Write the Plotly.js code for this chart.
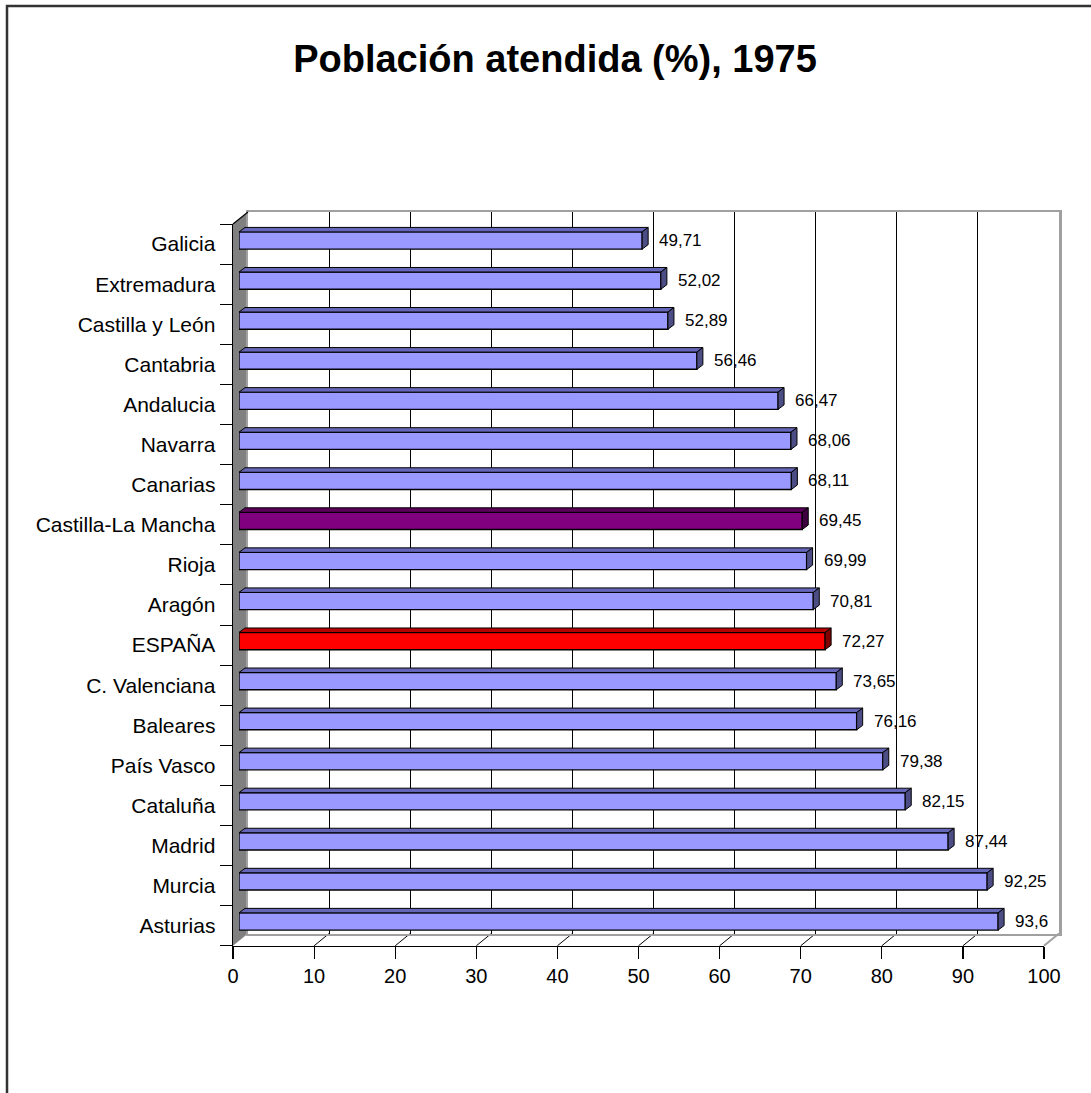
<!DOCTYPE html>
<html>
<head>
<meta charset="utf-8">
<script src="https://cdn.plot.ly/plotly-3.0.1.min.js"></script>
<style>
  html, body { margin: 0; padding: 0; background: #ffffff; }
  #chart { width: 1091px; height: 1093px; }
</style>
</head>
<body>
<div id="chart"></div>
<script>
// Población atendida (%) por comunidad autónoma, 1975
const regions = [
  'Galicia', 'Extremadura', 'Castilla y León', 'Cantabria', 'Andalucia',
  'Navarra', 'Canarias', 'Castilla-La Mancha', 'Rioja', 'Aragón', 'ESPAÑA',
  'C. Valenciana', 'Baleares', 'País Vasco', 'Cataluña', 'Madrid', 'Murcia',
  'Asturias'
];
const values = [
  49.71, 52.02, 52.89, 56.46, 66.47,
  68.06, 68.11, 69.45, 69.99, 70.81, 72.27,
  73.65, 76.16, 79.38, 82.15, 87.44, 92.25,
  93.6
];
const xTicks = [0, 10, 20, 30, 40, 50, 60, 70, 80, 90, 100];

// ---- styling ----
const FONT = 'Liberation Sans, Arial, Helvetica, sans-serif';
const W = 1091, H = 1093;
const px = x => x / W;
const py = y => 1 - y / H;

// pixel frames of the three depth planes of the pseudo-3D box
const FRONT = { x0: 233, x1: 1044, y0: 224, y1: 945.8 };
const BACK  = { x0: 248, x1: 1059, y0: 212, y1: 933.5 };
const MID   = { x0: 239, x1: 1050, y0: 220.5, y1: 941.5 };

const palette = {
  normal:  { front: '#9999FF', top: '#6666B8', side: '#4D4D85' },
  'ESPAÑA': { front: '#FF0000', top: '#B80000', side: '#800000' },
  'Castilla-La Mancha': { front: '#800080', top: '#5C005C', side: '#400040' }
};
const styleOf = r => palette[r] || palette.normal;

const BAR_W = 0.43;
const DEPTH_PX = 6, RISE_PX = 4.5;
const xMax = xTicks[xTicks.length - 1];
const dxU = DEPTH_PX * xMax / (MID.x1 - MID.x0);
const dyU = RISE_PX * regions.length / (MID.y1 - MID.y0);

const fmt = v => String(v).replace('.', ',');

// ---- traces ----
const traces = [
  // back wall subplot (carries the vertical gridlines)
  { type: 'scatter', mode: 'none', x: [0], y: [0], xaxis: 'x', yaxis: 'y',
    hoverinfo: 'skip', showlegend: false },
  // front plane subplot (carries the category and value axes)
  { type: 'scatter', mode: 'none', x: [0], y: [0], xaxis: 'x2', yaxis: 'y2',
    hoverinfo: 'skip', showlegend: false },
  // bars
  { type: 'bar', orientation: 'h', x: values, y: regions,
    xaxis: 'x3', yaxis: 'y3', width: BAR_W,
    marker: { color: regions.map(r => styleOf(r).front),
              line: { color: '#000000', width: 1.4 } },
    hoverinfo: 'x+y', showlegend: false }
];

// ---- bar top and side faces ----
const shapes = [];
regions.forEach((r, i) => {
  const v = values[i];
  const t = i - BAR_W / 2, b = i + BAR_W / 2;
  const st = styleOf(r);
  shapes.push({
    type: 'path', xref: 'x3', yref: 'y3', layer: 'above',
    path: `M 0,${t} L ${dxU},${t - dyU} L ${v + dxU},${t - dyU} L ${v},${t} Z`,
    fillcolor: st.top, line: { color: '#000000', width: 1 }
  });
  shapes.push({
    type: 'path', xref: 'x3', yref: 'y3', layer: 'above',
    path: `M ${v},${t} L ${v + dxU},${t - dyU} L ${v + dxU},${b - dyU} L ${v},${b} Z`,
    fillcolor: st.side, line: { color: '#000000', width: 1 }
  });
});

// left side wall
shapes.push({
  type: 'path', xref: 'paper', yref: 'paper', layer: 'below',
  path: `M ${px(FRONT.x0)},${py(FRONT.y0)} L ${px(BACK.x0)},${py(BACK.y0)} ` +
        `L ${px(BACK.x0)},${py(BACK.y1)} L ${px(FRONT.x0)},${py(FRONT.y1)} Z`,
  fillcolor: '#808080', line: { width: 0 }
});
shapes.push({
  type: 'line', xref: 'paper', yref: 'paper', layer: 'above',
  x0: px(FRONT.x0), y0: py(FRONT.y0), x1: px(BACK.x0), y1: py(BACK.y0),
  line: { color: '#000000', width: 1.2 }
});

// floor gridlines joining the front ticks to the back wall
const fx = v => FRONT.x0 + (FRONT.x1 - FRONT.x0) * v / xMax;
const bx = v => BACK.x0 + (BACK.x1 - BACK.x0) * v / xMax;
xTicks.slice(1).forEach(v => {
  shapes.push({
    type: 'line', xref: 'paper', yref: 'paper', layer: 'below',
    x0: px(fx(v)), y0: py(FRONT.y1), x1: px(bx(v)), y1: py(BACK.y1),
    line: { color: v === xMax ? '#A0A0A0' : '#000000', width: v === xMax ? 2 : 1 }
  });
});

// outer frame
shapes.push({
  type: 'rect', xref: 'paper', yref: 'paper', layer: 'above',
  x0: px(7), y0: py(6), x1: 1.02, y1: -0.02,
  line: { color: '#333333', width: 2.5 }, fillcolor: 'rgba(0,0,0,0)'
});

// ---- value labels ----
const annotations = regions.map((r, i) => ({
  xref: 'x3', yref: 'y3', x: values[i], y: r,
  text: fmt(values[i]), showarrow: false,
  xanchor: 'left', yanchor: 'middle', xshift: 15,
  font: { family: FONT, size: 17, color: '#000000' }
}));

const boundaries = regions.map((_, i) => i - 0.5).concat([regions.length - 0.5]);

const layout = {
  width: W, height: H,
  margin: { l: 0, r: 0, t: 0, b: 0 },
  paper_bgcolor: '#ffffff',
  plot_bgcolor: 'rgba(0,0,0,0)',
  showlegend: false,
  font: { family: FONT, color: '#000000' },
  title: {
    text: 'Población atendida (%), 1975',
    x: px(555), xanchor: 'center', xref: 'paper',
    y: py(59), yanchor: 'middle', yref: 'paper',
    font: { family: FONT, size: 38, weight: 'bold', color: '#000000' }
  },
  // back wall
  xaxis: {
    domain: [px(BACK.x0), px(BACK.x1)], anchor: 'y',
    range: [0, xMax], tickvals: xTicks, showticklabels: false, ticks: '',
    showgrid: true, gridcolor: '#000000', gridwidth: 1, zeroline: false,
    showline: true, mirror: true, linecolor: '#A0A0A0', linewidth: 2.5,
    fixedrange: true
  },
  yaxis: {
    domain: [py(BACK.y1), py(BACK.y0)], anchor: 'x',
    range: [0, 1], showticklabels: false, ticks: '', showgrid: false, zeroline: false,
    showline: true, mirror: true, linecolor: '#A0A0A0', linewidth: 2.5,
    fixedrange: true
  },
  // front plane: value axis and category axis
  xaxis2: {
    domain: [px(FRONT.x0), px(FRONT.x1)], anchor: 'y2',
    range: [0, xMax], tickvals: xTicks,
    ticks: 'outside', ticklen: 12, tickwidth: 1.2, tickcolor: '#000000',
    tickfont: { family: FONT, size: 20, color: '#000000' },
    showgrid: false, zeroline: false,
    showline: true, linecolor: '#000000', linewidth: 1.4,
    fixedrange: true
  },
  yaxis2: {
    domain: [py(FRONT.y1), py(FRONT.y0)], anchor: 'x2',
    range: [regions.length - 0.5, -0.5],
    tickmode: 'array', tickvals: regions.map((_, i) => i), ticktext: regions,
    ticks: '', ticklabelstandoff: 12,
    tickfont: { family: FONT, size: 21, color: '#000000' },
    minor: { tickmode: 'array', tickvals: boundaries, ticks: 'outside',
             ticklen: 12, tickwidth: 1, tickcolor: '#000000', showgrid: false },
    showgrid: false, zeroline: false,
    showline: true, linecolor: '#000000', linewidth: 1.4,
    fixedrange: true
  },
  // bar plane
  xaxis3: {
    domain: [px(MID.x0), px(MID.x1)], anchor: 'y3',
    range: [0, xMax], visible: false, fixedrange: true
  },
  yaxis3: {
    domain: [py(MID.y1), py(MID.y0)], anchor: 'x3',
    type: 'category', categoryorder: 'array', categoryarray: regions,
    range: [regions.length - 0.5, -0.5], visible: false, fixedrange: true
  },
  shapes: shapes,
  annotations: annotations
};

Plotly.newPlot('chart', traces, layout, { displayModeBar: false, staticPlot: true });
</script>
</body>
</html>
